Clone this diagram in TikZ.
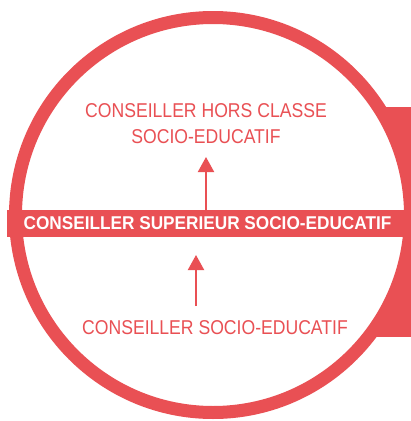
\documentclass[tikz,border=0pt]{standalone}
\usepackage{fontspec}
\setmainfont{Liberation Sans}
\newfontfamily\narrowfont{Liberation Sans}[FakeStretch=0.88]
\newfontfamily\bandfont{Liberation Sans}[FakeStretch=0.93]
\usetikzlibrary{arrows.meta}
\definecolor{conred}{RGB}{233,80,84}

\begin{document}
\begin{tikzpicture}[x=1pt,y=-1pt,
    grade/.style={text=conred,font=\narrowfont\fontsize{20}{26}\selectfont,align=center},
    band/.style={fill=conred,text=white,font=\bandfont\bfseries\fontsize{18.5}{20}\selectfont,
      minimum width=401pt,minimum height=27pt,inner sep=0pt},
    promo/.style={conred,line width=2pt,-{Triangle[width=16pt,length=15pt]}}]
  \useasboundingbox (0,0) rectangle (411,421);
  % red block behind the ring
  \fill[conred] (300,107) rectangle (411,337);
  \draw[conred,line width=13pt,fill=white] (213,215) circle (197.5);
  \node[band] (sup) at (207.5,223.5) {CONSEILLER SUPERIEUR SOCIO-EDUCATIF};
  \node[grade] (hc) at (206,124) {CONSEILLER HORS CLASSE\\SOCIO-EDUCATIF};
  \node[grade] (cse) at (215,328) {CONSEILLER SOCIO-EDUCATIF};
  \coordinate (uptip) at (206,157);
  \coordinate (lowtip) at (196,255);
  \coordinate (lowfoot) at (196,306);
  \draw[promo] (sup.north -| uptip) -- (uptip);
  \draw[promo] (lowfoot) -- (lowtip);
\end{tikzpicture}
\end{document}
